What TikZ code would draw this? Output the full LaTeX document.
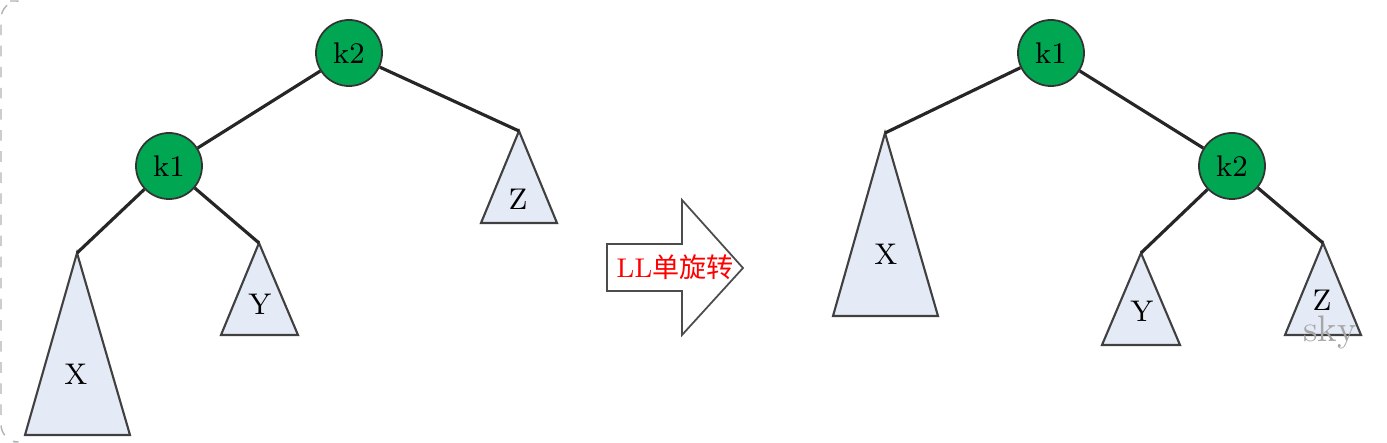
\documentclass[tikz,border=0pt]{standalone}
\usepackage{fontspec}
\newfontfamily\cjk{Noto Sans CJK SC}
\definecolor{nodegreen}{RGB}{0,166,81}
\definecolor{treeblue}{RGB}{229,235,246}
\tikzset{
  knode/.style={circle, draw=black!80, fill=nodegreen, line width=0.5pt,
    minimum size=0.66cm, inner sep=0pt, font=\fontsize{8.5}{10}\selectfont},
  subtree/.style={draw=black!75, fill=treeblue, line width=0.6pt},
  branch/.style={draw=black!85, line width=0.9pt},
  lbl/.style={inner sep=0pt, font=\fontsize{8.5}{10}\selectfont}
}
\begin{document}
\begin{tikzpicture}[x=0.01cm, y=-0.01cm]
\useasboundingbox (0,0) rectangle (1387,443);
\draw[gray!60, dashed, rounded corners=5] (10,1) -- (1,1) -- (1,442) -- (10,442);

% before rotation
\node[knode] (lk2) at (349,53) {k2};
\node[knode] (lk1) at (169,166) {k1};
\coordinate (lX) at (77,253);
\coordinate (lY) at (259,243);
\coordinate (lZ) at (519,131);
\filldraw[subtree] (lX) -- (25,435) -- (130,435) -- cycle;
\filldraw[subtree] (lY) -- (221,335) -- (298,335) -- cycle;
\filldraw[subtree] (lZ) -- (481,223) -- (557,223) -- cycle;
\node[lbl] (lXl) at (76,374) {X};
\node[lbl] (lYl) at (260,304) {Y};
\node[lbl] (lZl) at (518,199) {Z};
\draw[branch] (lk2) -- (lk1);
\draw[branch] (lk2) -- (lZ);
\draw[branch] (lk1) -- (lX);
\draw[branch] (lk1) -- (lY);

% arrow
\draw[black!70, fill=white, line width=0.5pt] (607,244) -- (682,244) -- (682,200) -- (743,268)
  -- (682,335) -- (682,291) -- (607,291) -- cycle;
\node[text=red, font=\fontsize{7.7}{9}\selectfont] (rot) at (675,267) {LL{\cjk 单旋转}};

% after rotation
\node[knode] (rk1) at (1051,53) {k1};
\node[knode] (rk2) at (1232,166) {k2};
\coordinate (rX) at (885,133);
\coordinate (rY) at (1141,253);
\coordinate (rZ) at (1323,243);
\filldraw[subtree] (rX) -- (833,316) -- (938,316) -- cycle;
\filldraw[subtree] (rY) -- (1102,345) -- (1180,345) -- cycle;
\filldraw[subtree] (rZ) -- (1285,335) -- (1361,335) -- cycle;
\node[lbl] (rXl) at (886,254) {X};
\node[lbl] (rYl) at (1142,311) {Y};
\node[lbl] (rZl) at (1322,300) {Z};
\draw[branch] (rk1) -- (rk2);
\draw[branch] (rk1) -- (rX);
\draw[branch] (rk2) -- (rY);
\draw[branch] (rk2) -- (rZ);
\node[inner sep=0pt, text=black!35, font=\fontsize{10.5}{12}\selectfont] (sky) at (1330,332) {sky};
\end{tikzpicture}
\end{document}
